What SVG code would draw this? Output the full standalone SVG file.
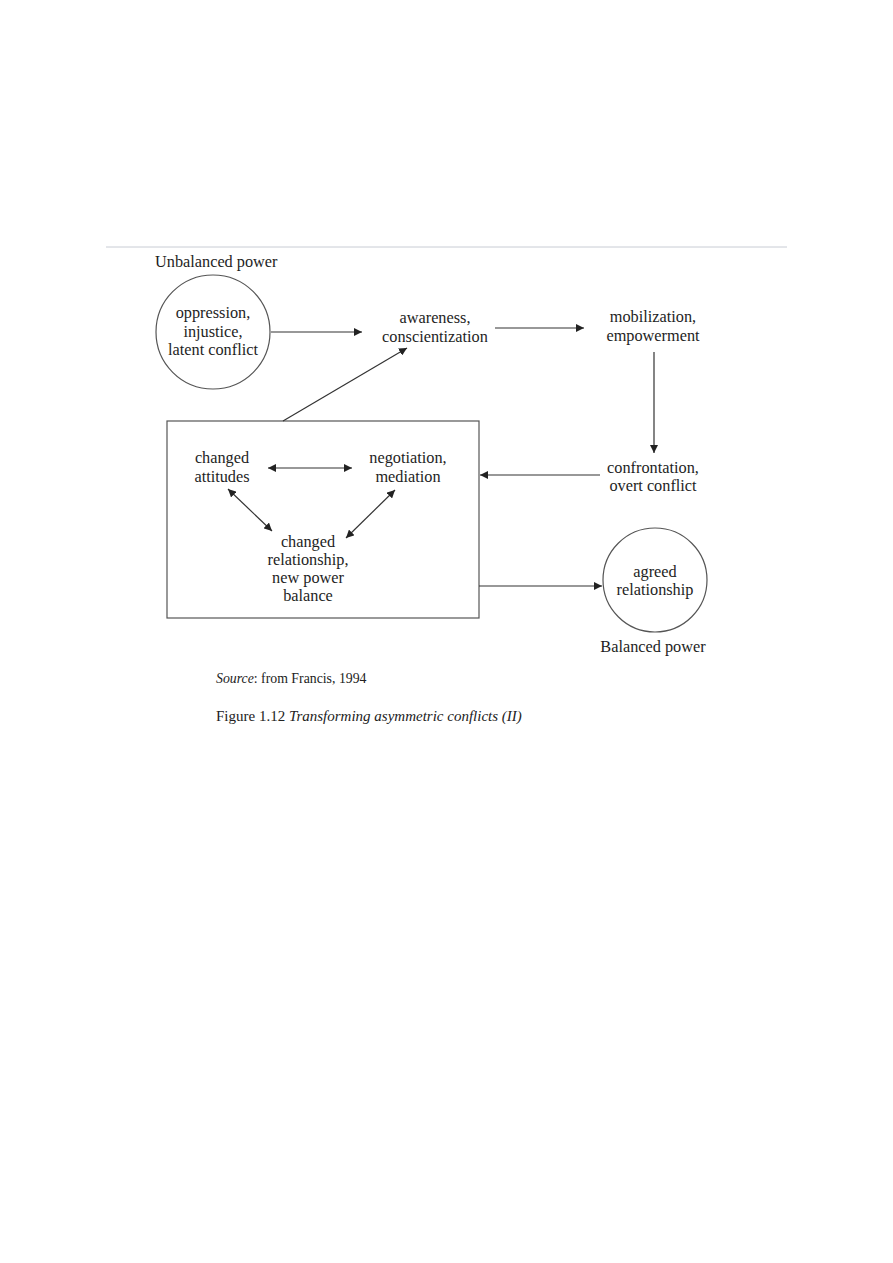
<svg xmlns="http://www.w3.org/2000/svg" width="893" height="1263" viewBox="0 0 893 1263">
<defs>
<marker id="ah" viewBox="0 0 10 10" refX="10" refY="5" markerWidth="8" markerHeight="8" markerUnits="userSpaceOnUse" orient="auto-start-reverse">
<path d="M0,0 L10,5 L0,10 z" fill="#222"/>
</marker>
<style>
.t{font-family:"Liberation Serif","Times New Roman",serif;font-size:16.3px;fill:#1e1e1e;text-anchor:middle}
.tl{font-family:"Liberation Serif","Times New Roman",serif;font-size:16.3px;fill:#1e1e1e}
.ln{stroke:#333;stroke-width:1.2;fill:none}
.sh{stroke:#555;stroke-width:1.2;fill:#fff}
.cap{font-family:"Liberation Serif","Times New Roman",serif;fill:#222}
</style>
</defs>
<rect width="893" height="1263" fill="#fff"/>
<line x1="106" y1="247" x2="787" y2="247" stroke="#c8ccd4" stroke-width="1"/>
<text class="tl" x="155" y="267">Unbalanced power</text>
<g id="oppression">
<circle class="sh" cx="213" cy="332" r="57"/>
<text class="t" x="213" y="318">oppression,</text>
<text class="t" x="213" y="337">injustice,</text>
<text class="t" x="213" y="355">latent conflict</text>
</g>
<g id="awareness">
<text class="t" x="435" y="323">awareness,</text>
<text class="t" x="435" y="342">conscientization</text>
</g>
<g id="mobilization">
<text class="t" x="653" y="322">mobilization,</text>
<text class="t" x="653" y="341">empowerment</text>
</g>
<g id="confrontation">
<text class="t" x="653" y="473">confrontation,</text>
<text class="t" x="653" y="491">overt conflict</text>
</g>
<g id="box">
<rect class="sh" x="167" y="421" width="312" height="197"/>
</g>
<g id="changed-attitudes">
<text class="t" x="222" y="463">changed</text>
<text class="t" x="222" y="482">attitudes</text>
</g>
<g id="negotiation">
<text class="t" x="408" y="463">negotiation,</text>
<text class="t" x="408" y="482">mediation</text>
</g>
<g id="changed-relationship">
<text class="t" x="308" y="547">changed</text>
<text class="t" x="308" y="565">relationship,</text>
<text class="t" x="308" y="583">new power</text>
<text class="t" x="308" y="601">balance</text>
</g>
<g id="agreed">
<circle class="sh" cx="655" cy="580" r="52"/>
<text class="t" x="655" y="577">agreed</text>
<text class="t" x="655" y="595">relationship</text>
</g>
<text class="t" x="653" y="652">Balanced power</text>
<g id="connectors">
<line class="ln" x1="271" y1="332" x2="362" y2="332" marker-end="url(#ah)"/>
<line class="ln" x1="495" y1="328" x2="584" y2="328" marker-end="url(#ah)"/>
<line class="ln" x1="654" y1="352" x2="654" y2="453" marker-end="url(#ah)"/>
<line class="ln" x1="600" y1="475" x2="480" y2="475" marker-end="url(#ah)"/>
<line class="ln" x1="283" y1="421" x2="407" y2="348" marker-end="url(#ah)"/>
<line class="ln" x1="268" y1="468" x2="352" y2="468" marker-start="url(#ah)" marker-end="url(#ah)"/>
<line class="ln" x1="228" y1="489" x2="272" y2="531" marker-start="url(#ah)" marker-end="url(#ah)"/>
<line class="ln" x1="395" y1="490" x2="346" y2="538" marker-start="url(#ah)" marker-end="url(#ah)"/>
<line class="ln" x1="479" y1="586" x2="602" y2="586" marker-end="url(#ah)"/>
</g>
<text class="cap" x="216" y="683" font-size="13.8"><tspan font-style="italic">Source</tspan>: from Francis, 1994</text>
<text class="cap" x="216" y="721" font-size="15">Figure 1.12  <tspan font-style="italic">Transforming asymmetric conflicts (II)</tspan></text>
</svg>
